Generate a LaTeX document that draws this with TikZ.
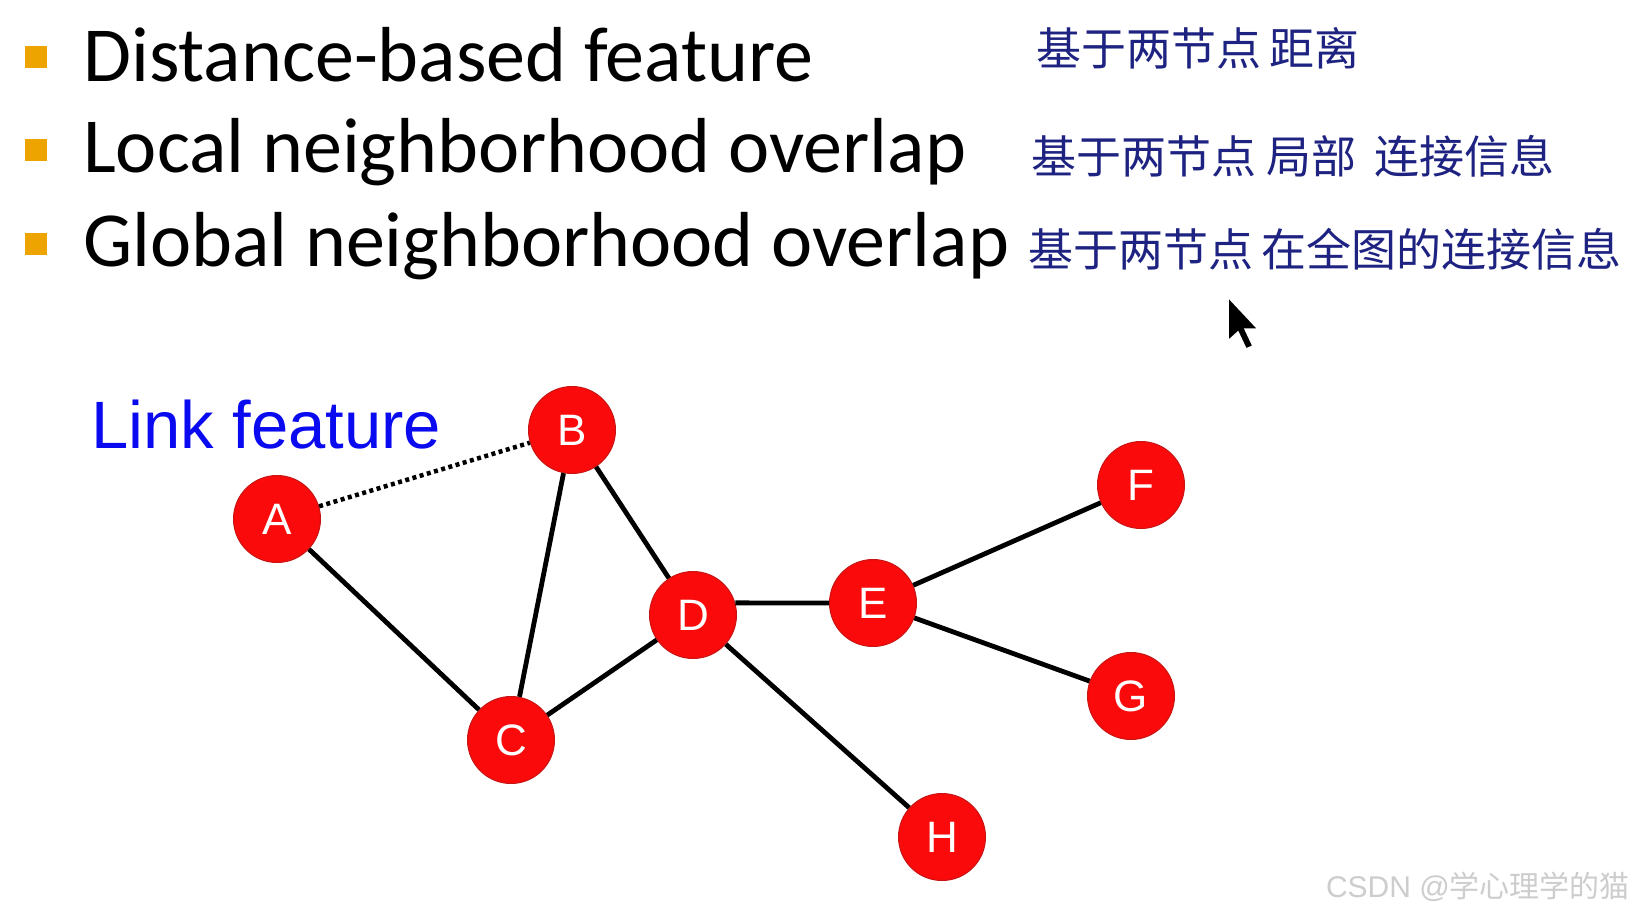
\documentclass[tikz,border=0pt]{standalone}
\usepackage{fontspec}
\setmainfont{Carlito}
\newfontfamily\arialfont{Liberation Sans}
\newfontfamily\cjk{Noto Sans CJK SC}
\usetikzlibrary{positioning,calc}
\definecolor{NodeRed}{RGB}{250,10,10}
\definecolor{NodeRim}{RGB}{200,20,20}
\definecolor{BulletOrange}{RGB}{238,164,0}
\definecolor{LinkBlue}{RGB}{10,10,240}
\definecolor{InkBlue}{RGB}{30,35,130}
\definecolor{MarkGray}{RGB}{205,205,205}
\tikzset{
	vtx/.style={circle,draw=NodeRim,fill=NodeRed,line width=1pt,minimum size=87pt,inner sep=0pt,
		text=white,font=\arialfont\fontsize{44}{44}\selectfont},
	edge/.style={draw=black,line width=4.8pt},
	guess/.style={draw=black,line width=4.5pt,dash pattern=on 4pt off 3.5pt},
	item/.style={anchor=base west,inner sep=0pt,font=\fontsize{78}{90}\selectfont},
	bullet/.style={fill=BulletOrange,minimum size=22pt,inner sep=0pt},
	note/.style={anchor=west,inner sep=0pt,text=InkBlue,font=\cjk\fontsize{45}{50}\selectfont},
}

\begin{document}
\begin{tikzpicture}[x=1pt,y=-1pt]
			\useasboundingbox[fill=white] (0,0) rectangle (1636,913);
			% bullet list
			\node[bullet] (b1) at (36,57) {};
			\node[bullet] (b2) at (36,150) {};
			\node[bullet] (b3) at (36,244) {};
			\node[item] (t1) at (83,81) {Distance-based feature};
			\node[item] (t2) at (83,172) {Local neighborhood overlap};
			\node[item] (t3) at (83,266) {Global neighborhood overlap};
			% handwritten notes
			\node[note] (n1) at (1036,48) {基于两节点\hspace{8pt}距离};
			\node[note] (n2) at (1031,156) {基于两节点\hspace{10pt}局部\hspace{18pt}连接信息};
			\node[note] (n3) at (1028,249) {基于两节点\hspace{8pt}在全图的连接信息};
			% graph
			\node[anchor=base west,inner sep=0pt,text=LinkBlue,font=\arialfont\fontsize{67}{67}\selectfont] (lf) at (91,448) {Link feature};
			\node[vtx] (A) at (277,519) {A};
			\node[vtx] (B) at (572,430) {B};
			\node[vtx] (C) at (511,740) {C};
			\node[vtx] (D) at (693,615) {D};
			\node[vtx] (E) at (873,603) {E};
			\node[vtx] (F) at (1141,485) {F};
			\node[vtx] (G) at (1131,696) {G};
			\node[vtx] (H) at (942,837) {H};
			\draw[guess] (A)--(B);
			\draw[edge] (A)--(C);
			\draw[edge] (B)--(C);
			\draw[edge] (B)--(D);
			\draw[edge] (C)--(D);
			\draw[edge] (D.16)--(E.west);
			\draw[edge] (D)--(H);
			\draw[edge] (E)--(F);
			\draw[edge] (E)--(G);
			% pointer
			\coordinate (tip) at (1228,297);
			\fill[black,draw=white,line width=1.5pt,shift={(tip)}] (0,0)--(0,44)--(10,35)--(18,52)--(25,49)--(17,32)--(30,32)--cycle;
			% watermark
			\node[anchor=east,inner sep=0pt,text=MarkGray,font=\fontsize{30}{32}\selectfont] (wm) at (1630,887) {\arialfont CSDN @\cjk 学心理学的猫};
		\end{tikzpicture}
\end{document}
